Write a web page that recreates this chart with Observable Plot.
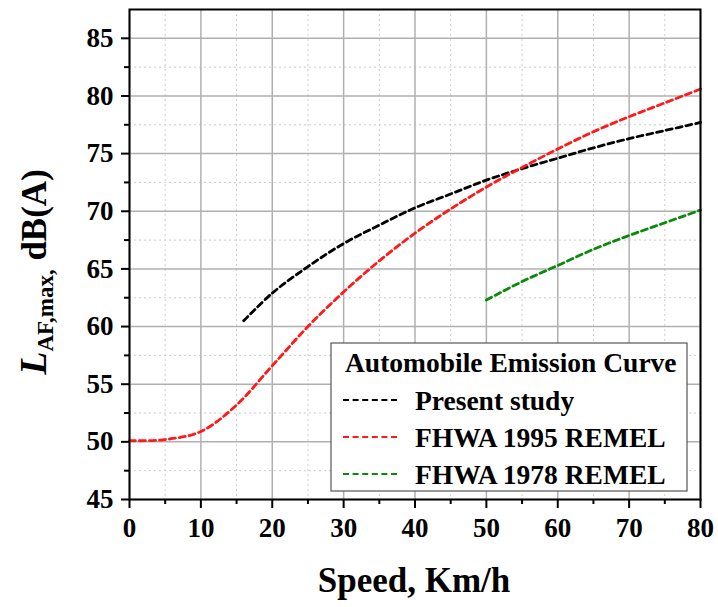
<!DOCTYPE html>
<html>
<head>
<meta charset="utf-8">
<script src="https://cdn.jsdelivr.net/npm/d3@7"></script>
<script src="https://cdn.jsdelivr.net/npm/@observablehq/plot@0.6"></script>
<style>
  body { margin: 0; background: white; }
  #chart svg { display: block; }
</style>
</head>
<body>
<div id="chart"></div>
<script>
// Automobile maximum A-weighted emission level vs. speed
const presentSpeed = [16, 20, 25, 30, 35, 40, 45, 50, 55, 60, 65, 70, 75, 80];
const presentLevel = [60.5, 62.9, 65.2, 67.2, 68.8, 70.3, 71.5, 72.7, 73.7, 74.6, 75.5, 76.3, 77.0, 77.7];

const remel1995Speed = [0, 5, 10, 15, 20, 25, 30, 35, 40, 45, 50, 55, 60, 65, 70, 75, 80];
const remel1995Level = [50.1, 50.2, 50.9, 53.2, 56.6, 60.0, 63.0, 65.7, 68.1, 70.2, 72.1, 73.8, 75.4, 76.9, 78.2, 79.4, 80.6];

const remel1978Speed = [50, 55, 60, 65, 70, 75, 80];
const remel1978Level = [62.3, 63.9, 65.3, 66.7, 67.9, 69.0, 70.1];

const xMajor = [0, 10, 20, 30, 40, 50, 60, 70, 80];
const xMinor = [5, 15, 25, 35, 45, 55, 65, 75];
const yMajor = [45, 50, 55, 60, 65, 70, 75, 80, 85];
const yMinor = [47.5, 52.5, 57.5, 62.5, 67.5, 72.5, 77.5, 82.5];

const seriesNames = ["Present study", "FHWA 1995 REMEL", "FHWA 1978 REMEL"];
const seriesColors = ["#000000", "#ff1a1a", "#0a8a0a"];

const toRows = (xs, ys, name) => xs.map((s, i) => ({speed: s, level: ys[i], series: name}));
const rows = [
  ...toRows(presentSpeed, presentLevel, seriesNames[0]),
  ...toRows(remel1995Speed, remel1995Level, seriesNames[1]),
  ...toRows(remel1978Speed, remel1978Level, seriesNames[2])
];

const font = "'Liberation Serif', 'Times New Roman', serif";

const chart = Plot.plot({
  width: 718,
  height: 607,
  marginLeft: 129,
  marginRight: 18,
  marginTop: 9,
  marginBottom: 108,
  style: {fontFamily: font, fontWeight: "bold", fontSize: "27px", background: "white", color: "black"},
  x: {domain: [0, 80]},
  y: {domain: [45, 87.5]},
  color: {domain: seriesNames, range: seriesColors},
  marks: [
    Plot.gridX(xMinor, {stroke: "#cccccc", strokeOpacity: 1, strokeWidth: 1, strokeDasharray: "2,3"}),
    Plot.gridY(yMinor, {stroke: "#cccccc", strokeOpacity: 1, strokeWidth: 1, strokeDasharray: "2,3"}),
    Plot.gridX(xMajor, {stroke: "#b0b0b0", strokeOpacity: 1, strokeWidth: 1.5}),
    Plot.gridY(yMajor, {stroke: "#b0b0b0", strokeOpacity: 1, strokeWidth: 1.5}),
    Plot.line(rows, {
      x: "speed", y: "level", z: "series", stroke: "series",
      curve: "catmull-rom", strokeWidth: 2.8, strokeDasharray: "6,4"
    }),
    Plot.frame({stroke: "black", strokeWidth: 2}),
    Plot.axisY(yMajor, {tickSize: 8, tickPadding: 8, strokeWidth: 2, fontSize: 27, label: null}),
    Plot.axisY(yMinor, {tickSize: 5, strokeWidth: 2, tickFormat: () => "", label: null}),
    Plot.axisX(xMajor, {tickSize: 9, tickPadding: 9, strokeWidth: 2, fontSize: 27, label: null}),
    Plot.axisX(xMinor, {tickSize: 5, strokeWidth: 2, tickFormat: () => "", label: null})
  ]
});

document.getElementById("chart").appendChild(chart);

// Axis titles and legend are added to the same SVG
const svg = d3.select(chart);

svg.append("text")
  .attr("x", 414)
  .attr("y", 592)
  .attr("text-anchor", "middle")
  .attr("font-family", font)
  .attr("font-weight", "bold")
  .attr("font-size", 35)
  .attr("fill", "black")
  .text("Speed, Km/h");

const yTitle = svg.append("text")
  .attr("transform", "translate(46,272) rotate(-90)")
  .attr("text-anchor", "middle")
  .attr("font-family", font)
  .attr("font-weight", "bold")
  .attr("fill", "black");
yTitle.append("tspan").attr("font-size", 38).attr("font-style", "italic").text("L");
yTitle.append("tspan").attr("font-size", 23).attr("dy", 7).text("AF,max,");
yTitle.append("tspan").attr("font-size", 35).attr("dy", -7).text("\u00a0dB(A)");

const legend = svg.append("g")
  .attr("font-family", font)
  .attr("font-weight", "bold")
  .attr("text-anchor", "start")
  .attr("fill", "black");

legend.append("rect")
  .attr("x", 331).attr("y", 343)
  .attr("width", 356).attr("height", 148)
  .attr("fill", "white")
  .attr("stroke", "#555")
  .attr("stroke-width", 1.2);

legend.append("text")
  .attr("x", 345).attr("y", 372)
  .attr("font-size", 27.5)
  .text("Automobile Emission Curve");

seriesNames.forEach((name, i) => {
  const yy = 400 + i * 37;
  legend.append("line")
    .attr("x1", 343).attr("x2", 398)
    .attr("y1", yy).attr("y2", yy)
    .attr("stroke", seriesColors[i])
    .attr("stroke-width", 2.2)
    .attr("stroke-dasharray", "6,3.6");
  legend.append("text")
    .attr("x", 415).attr("y", yy + 10)
    .attr("font-size", 27.5)
    .text(name);
});
</script>
</body>
</html>
